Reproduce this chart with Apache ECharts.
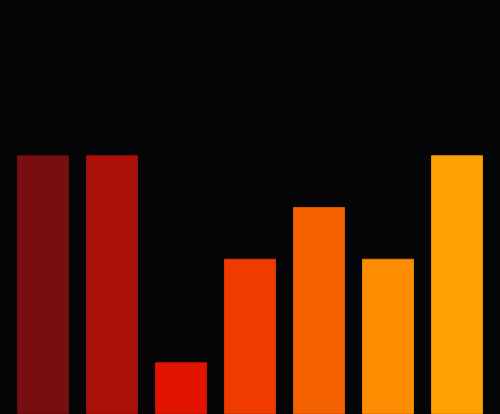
<!DOCTYPE html>
<html>
<head>
<meta charset="utf-8">
<script src="https://cdn.jsdelivr.net/npm/echarts@6/dist/echarts.min.js"></script>
<style>
  html, body { margin: 0; padding: 0; background: #050407; }
  #chart { width: 500px; height: 414px; }
</style>
</head>
<body>
<div id="chart"></div>
<script>
const categories = ["A", "B", "C", "D", "E", "F", "G"];
const values = [5, 5, 1, 3, 4, 3, 5];
const colors = ["#780e10", "#aa1008", "#e21400", "#ef3b00", "#f76200", "#fe8c00", "#fea100"];
const borders = ["#6a0c0e", "#9a0e08", "#cc1200", "#d83400", "#e05800", "#e87e00", "#e89200"];

const chart = echarts.init(document.getElementById("chart"));

chart.setOption({
  backgroundColor: "#050407",
  animation: false,
  grid: { left: 8.5, right: 8.5, top: 0, bottom: 0 },
  xAxis: {
    type: "category",
    data: categories,
    show: false,
  },
  yAxis: {
    type: "value",
    min: 0,
    max: 8,
    show: false,
  },
  series: [
    {
      type: "bar",
      barWidth: 52,
      data: values.map((v, i) => ({
        value: v,
        itemStyle: { color: colors[i], borderColor: borders[i], borderWidth: 1 },
      })),
    },
  ],
});

window.addEventListener("resize", () => chart.resize());
</script>
</body>
</html>
